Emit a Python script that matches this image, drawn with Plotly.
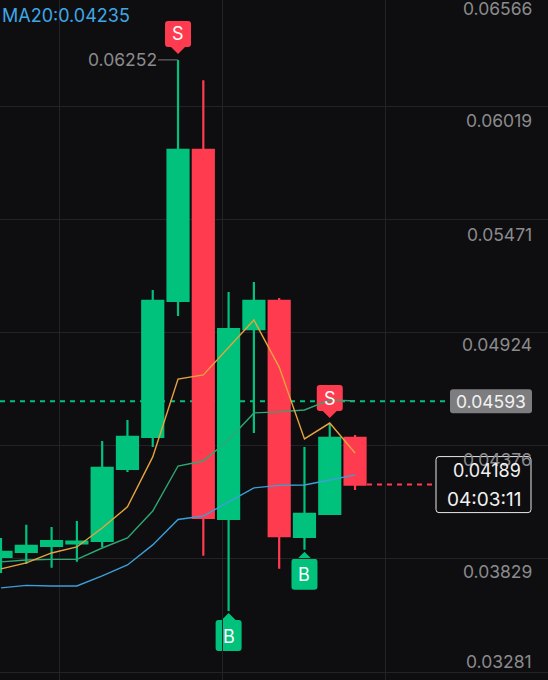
import plotly.graph_objects as go

# ---- data ----
candle_idx = list(range(15))
opens  = [0.03839,0.03863,0.03892,0.03904,0.03916,0.04265,0.04420,0.05078,0.05809,0.04023,0.04942,0.05078,0.03936,0.04047,0.04415]
highs  = [0.03931,0.03994,0.03984,0.04013,0.04400,0.04502,0.05131,0.06245,0.06147,0.05121,0.05170,0.05092,0.04371,0.04482,0.04429]
lows   = [0.03761,0.03805,0.03786,0.03815,0.03887,0.04250,0.04371,0.05005,0.03844,0.03577,0.04439,0.03781,0.03873,0.04042,0.04163]
closes = [0.03863,0.03892,0.03916,0.03913,0.04270,0.04420,0.05078,0.05809,0.04028,0.04942,0.05078,0.03940,0.04047,0.04415,0.04189]

ma5  = [0.03781,0.03810,0.03858,0.03887,0.03979,0.04081,0.04323,0.04700,0.04720,0.04855,0.04986,0.04758,0.04410,0.04487,0.04342]
ma10 = [0.03815,0.03824,0.03827,0.03827,0.03882,0.03931,0.04061,0.04279,0.04303,0.04405,0.04536,0.04541,0.04550,0.04599,0.04594]
ma20 = [0.03689,0.03701,0.03698,0.03698,0.03747,0.03800,0.03897,0.04020,0.04037,0.04105,0.04173,0.04185,0.04187,0.04211,0.04236]

grid_prices = [0.06566,0.06019,0.05471,0.04924,0.04376,0.03829,0.03281]
grid_labels = ["0.06566","0.06019","0.05471","0.04924","0.04376","0.03829","0.03281"]
label_prices = [0.06495,0.05954,0.05402,0.04865,0.04310,0.03770,0.03335]
grid_x = [2.30,8.75,15.20]

sell_signals = [7,13]
buy_signals = [9,12]

high_text = "0.06252"
ma_text = "MA20:0.04235"
last_high_price = 0.04593
last_high_text = "0.04593"
current_price = 0.04189
current_text = "0.04189"
countdown_text = "04:03:11"

# ---- style ----
BG = "#0e0e10"
GRID = "#232326"
GREEN = "#00c27c"
RED = "#ff3b50"
LABEL = "#8b8b8d"
FONT = "Inter, Roboto, sans-serif"

fig = go.Figure()
fig.add_trace(go.Candlestick(
    x=candle_idx, open=opens, high=highs, low=lows, close=closes,
    increasing=dict(line=dict(color=GREEN, width=2.2), fillcolor=GREEN),
    decreasing=dict(line=dict(color=RED, width=2.2), fillcolor=RED),
    whiskerwidth=0, showlegend=False, hoverinfo="skip"))
for vals, col in ((ma20, "#3c9fd8"), (ma10, "#2fa874"), (ma5, "#e6a43f")):
    fig.add_trace(go.Scatter(x=candle_idx, y=vals, mode="lines",
                             line=dict(color=col, width=1.4),
                             showlegend=False, hoverinfo="skip"))

shapes = []
# dashed price lines, beneath the candles
shapes.append(dict(type="line", layer="below", xref="x domain", yref="y", x0=0, x1=450/548,
                   y0=last_high_price, y1=last_high_price,
                   line=dict(color=GREEN, width=2, dash="5px,5px")))
shapes.append(dict(type="line", layer="below", xref="x domain", yref="y", x0=367/548, x1=436/548,
                   y0=current_price, y1=current_price,
                   line=dict(color=RED, width=2, dash="5px,5px")))

def rrect_path(l, r, b, t, rad):
    return (f"M{l+rad},{b} L{r-rad},{b} Q{r},{b} {r},{b+rad} L{r},{t-rad} Q{r},{t} {r-rad},{t} "
            f"L{l+rad},{t} Q{l},{t} {l},{t-rad} L{l},{b+rad} Q{l},{b} {l+rad},{b} Z")

annos = []
# signal badges: anchored on the candle's high / low
for i in sell_signals:
    path = "M0,6 L7,13 L10,13 Q13,13 13,16 L13,36 Q13,39 10,39 L-10,39 Q-13,39 -13,36 L-13,16 Q-13,13 -10,13 L-7,13 Z"
    shapes.append(dict(type="path", layer="below", xref="x", yref="y", xsizemode="pixel", ysizemode="pixel",
                       xanchor=i, yanchor=highs[i], path=path, fillcolor=RED, line=dict(width=0)))
    annos.append(dict(x=i, y=highs[i], xref="x", yref="y", text="S", showarrow=False, yshift=26,
                      xanchor="center", font=dict(family=FONT, size=18, color="#ffffff")))
for i in buy_signals:
    path = "M0,-2 L7,-9 L10,-9 Q13,-9 13,-12 L13,-37 Q13,-40 10,-40 L-10,-40 Q-13,-40 -13,-37 L-13,-12 Q-13,-9 -10,-9 L-7,-9 Z"
    shapes.append(dict(type="path", layer="below", xref="x", yref="y", xsizemode="pixel", ysizemode="pixel",
                       xanchor=i, yanchor=lows[i], path=path, fillcolor=GREEN, line=dict(width=0)))
    annos.append(dict(x=i, y=lows[i], xref="x", yref="y", text="B", showarrow=False, yshift=-25,
                      xanchor="center", font=dict(family=FONT, size=18, color="#ffffff")))

# high marker with leader
shapes.append(dict(type="line", xref="x", yref="y", xsizemode="pixel", ysizemode="pixel",
                   xanchor=7, yanchor=highs[7], x0=-20, x1=0, y0=0, y1=0,
                   line=dict(color="#77777a", width=1)))
annos.append(dict(x=7, y=highs[7], xref="x", yref="y", text=high_text, showarrow=False,
                  xanchor="right", xshift=-19, font=dict(family=FONT, size=17.5, color=LABEL)))

# price labels on the right
for p, t in zip(label_prices, grid_labels):
    annos.append(dict(x=534/548, y=p, xref="x domain", yref="y", text=t, showarrow=False,
                      xanchor="right", font=dict(family=FONT, size=17.5, color=LABEL)))

# last-high tag
shapes.append(dict(type="path", xref="x domain", yref="y", xsizemode="pixel", ysizemode="pixel",
                   xanchor=450/548, yanchor=last_high_price,
                   path=rrect_path(0, 82, -12, 12, 3), fillcolor="#7d7d7f", line=dict(width=0)))
annos.append(dict(x=491/548, y=last_high_price, xref="x domain", yref="y", text=last_high_text, showarrow=False,
                  xanchor="center", font=dict(family=FONT, size=17.5, color="#f2f2f2")))

# current price box
shapes.append(dict(type="path", xref="x domain", yref="y", xsizemode="pixel", ysizemode="pixel",
                   xanchor=436/548, yanchor=current_price,
                   path=rrect_path(0, 95, -28, 28, 3), fillcolor=BG, line=dict(color="#e8e8e8", width=1)))
annos.append(dict(x=523/548, y=current_price, xref="x domain", yref="y", text=current_text, showarrow=False,
                  xanchor="right", yshift=14, font=dict(family=FONT, size=18, color="#f2f2f2")))
annos.append(dict(x=523/548, y=current_price, xref="x domain", yref="y", text=countdown_text, showarrow=False,
                  xanchor="right", yshift=-15, font=dict(family=FONT, size=19, color="#f2f2f2")))

# MA legend
annos.append(dict(x=0, y=1-15/680, xref="x domain", yref="y domain", text=ma_text, showarrow=False,
                  xanchor="left", yanchor="middle", font=dict(family=FONT, size=18, color="#3ea8e6")))

fig.update_layout(
    width=548, height=680, margin=dict(l=0, r=0, t=0, b=0),
    paper_bgcolor=BG, plot_bgcolor=BG, boxgap=0.17, boxgroupgap=0, shapes=shapes, annotations=annos,
    xaxis=dict(range=[-0.04, 21.63], showgrid=True, gridcolor=GRID, gridwidth=1, tickmode="array",
               tickvals=grid_x, showticklabels=False, ticks="", zeroline=False,
               rangeslider=dict(visible=False), fixedrange=True),
    yaxis=dict(range=[0.03243, 0.06535], showgrid=True, gridcolor=GRID, gridwidth=1, tickmode="array",
               tickvals=grid_prices, showticklabels=False, ticks="", zeroline=False, fixedrange=True),
)
fig.write_html("out.html", config=dict(displayModeBar=False),
               post_script="document.body.style.margin='0';document.body.style.background='%s';" % BG)
